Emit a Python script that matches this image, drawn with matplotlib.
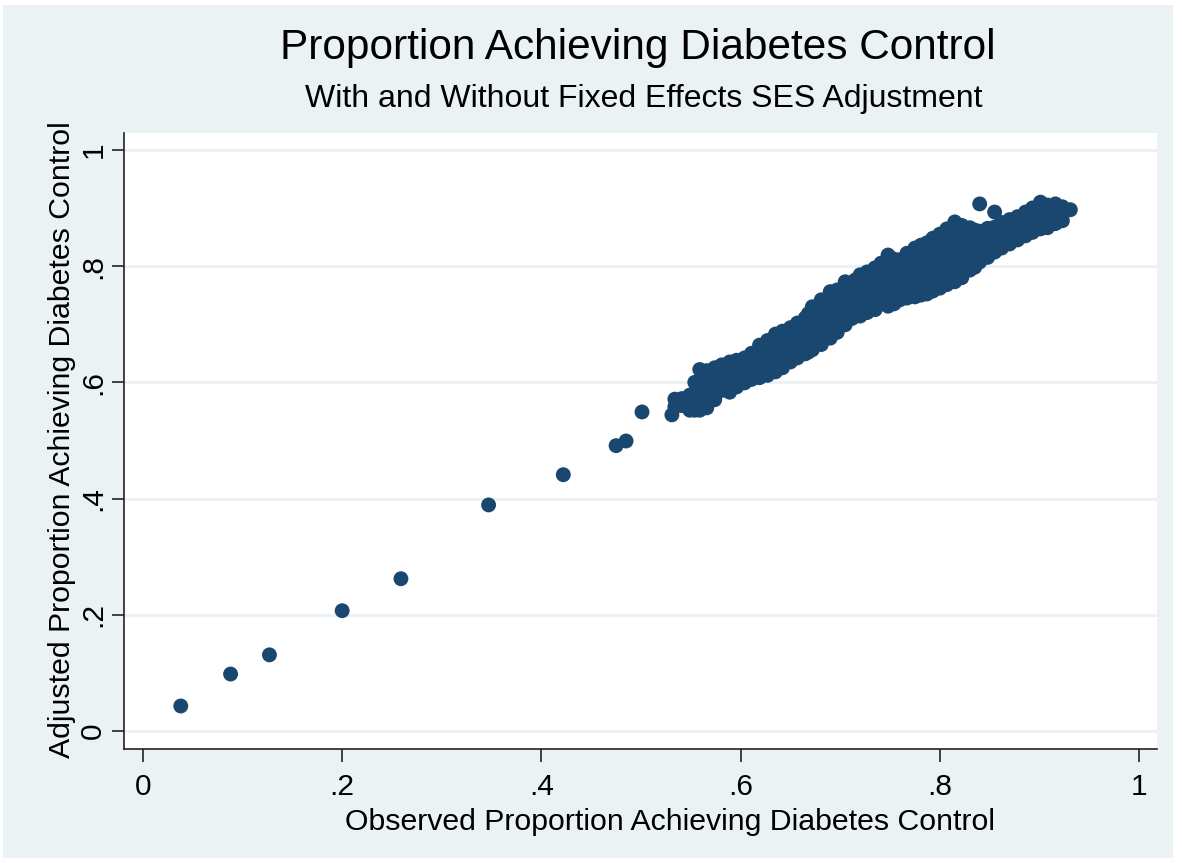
import matplotlib
matplotlib.use("Agg")
import matplotlib.pyplot as plt
from matplotlib.patches import Rectangle
from matplotlib.ticker import FixedLocator, FuncFormatter

# colours (Stata s2color look)
BG = "#EAF2F3"
NAVY = "#1A476F"

plt.rcParams['font.family'] = ['Liberation Sans', 'DejaVu Sans']

# isolated low-performing practices
obs_low = [0.038, 0.088, 0.127, 0.200, 0.259, 0.347, 0.422, 0.475, 0.485, 0.501, 0.531]
adj_low = [0.043, 0.098, 0.131, 0.207, 0.262, 0.389, 0.441, 0.491, 0.499, 0.549, 0.544]

# main cluster, read column by column (observed -> adjusted values)
cluster = {
    0.534: [0.571, 0.558],
    0.541: [0.572, 0.560],
    0.549: [0.578, 0.565, 0.552],
    0.554: [0.600, 0.582, 0.565, 0.552],
    0.559: [0.622, 0.600, 0.585, 0.568, 0.552],
    0.566: [0.620, 0.603, 0.588, 0.572, 0.556],
    0.574: [0.625, 0.610, 0.595, 0.580, 0.570],
    0.581: [0.630, 0.614, 0.598, 0.586],
    0.589: [0.635, 0.620, 0.605, 0.590, 0.583],
    0.596: [0.638, 0.623, 0.608, 0.592],
    0.604: [0.642, 0.628, 0.614, 0.599],
    0.611: [0.650, 0.635, 0.620, 0.605],
    0.619: [0.664, 0.650, 0.636, 0.622, 0.608],
    0.627: [0.672, 0.657, 0.641, 0.626, 0.612],
    0.635: [0.683, 0.667, 0.652, 0.635, 0.618],
    0.642: [0.688, 0.672, 0.656, 0.640, 0.625],
    0.650: [0.694, 0.680, 0.665, 0.650, 0.635],
    0.657: [0.702, 0.687, 0.672, 0.657, 0.642],
    0.665: [0.711, 0.696, 0.680, 0.664, 0.649],
    0.668: [0.718, 0.703, 0.688, 0.672, 0.652],
    0.672: [0.730, 0.715, 0.700, 0.685, 0.670, 0.656],
    0.681: [0.742, 0.726, 0.710, 0.694, 0.678, 0.665],
    0.690: [0.756, 0.740, 0.724, 0.708, 0.692, 0.676],
    0.697: [0.759, 0.745, 0.728, 0.712, 0.696, 0.686],
    0.705: [0.773, 0.755, 0.737, 0.718, 0.699],
    0.712: [0.762, 0.745, 0.727, 0.710],
    0.715: [0.776],
    0.720: [0.785, 0.768, 0.750, 0.732, 0.714],
    0.727: [0.790, 0.772, 0.755, 0.737, 0.720],
    0.735: [0.797, 0.780, 0.762, 0.744, 0.725],
    0.741: [0.805, 0.788, 0.770, 0.752, 0.735],
    0.748: [0.819, 0.800, 0.782, 0.765, 0.748, 0.731],
    0.754: [0.812, 0.795, 0.778, 0.760, 0.742, 0.735],
    0.760: [0.811, 0.794, 0.777, 0.759, 0.742],
    0.767: [0.822, 0.803, 0.786, 0.768, 0.752, 0.745],
    0.770: [0.819],
    0.775: [0.831, 0.812, 0.795, 0.778, 0.762, 0.747],
    0.781: [0.836, 0.818, 0.800, 0.782, 0.764, 0.750],
    0.787: [0.840, 0.824, 0.806, 0.788, 0.770, 0.752],
    0.793: [0.848, 0.830, 0.812, 0.793, 0.775, 0.757],
    0.800: [0.855, 0.837, 0.818, 0.799, 0.780, 0.762],
    0.807: [0.864, 0.845, 0.826, 0.806, 0.787, 0.768],
    0.815: [0.876, 0.853, 0.833, 0.813, 0.793, 0.773],
    0.822: [0.870, 0.851, 0.832, 0.812, 0.790, 0.780],
    0.830: [0.866, 0.848, 0.830, 0.811, 0.793],
    0.835: [0.862, 0.845, 0.827, 0.810, 0.798],
    0.840: [0.907, 0.860, 0.842, 0.825, 0.807],
    0.848: [0.865, 0.848, 0.832, 0.815],
    0.855: [0.893, 0.867, 0.850, 0.838, 0.824],
    0.862: [0.875, 0.860, 0.845, 0.831],
    0.870: [0.880, 0.865, 0.851, 0.838],
    0.878: [0.885, 0.871, 0.858, 0.845],
    0.886: [0.893, 0.878, 0.865, 0.852],
    0.893: [0.900, 0.886, 0.872, 0.858],
    0.901: [0.910, 0.895, 0.880, 0.864],
    0.908: [0.905, 0.890, 0.876, 0.866],
    0.916: [0.907, 0.890, 0.873],
    0.923: [0.902, 0.888, 0.878],
    0.931: [0.897],
}

ticks = [0, 0.2, 0.4, 0.6, 0.8, 1.0]
tick_labels = ["0", ".2", ".4", ".6", ".8", "1"]

obs = obs_low + [x for x, ys in cluster.items() for _ in ys]
adj = adj_low + [y for ys in cluster.values() for y in ys]

W, H = 1182, 863
fig = plt.figure(figsize=(W / 100, H / 100), dpi=100, facecolor="white")
fig.patches.append(Rectangle((3 / W, 5 / H), (1173 - 3) / W, (858 - 5) / H,
                             transform=fig.transFigure, facecolor=BG,
                             edgecolor="none", zorder=-5))

ax = fig.add_axes([124 / W, 1 - 749 / H, (1157 - 124) / W, (749 - 133) / H])
ax.set_zorder(2)
ax.set_facecolor("white")
ax.scatter(obs, adj, s=115, color=NAVY, edgecolors="none", zorder=3)

ax.set_xlim(-0.019, 1.018)
ax.set_ylim(-0.031, 1.029)

fmt = FuncFormatter(lambda v, p: tick_labels[min(range(len(ticks)), key=lambda i: abs(ticks[i] - v))])
ax.xaxis.set_major_locator(FixedLocator(ticks))
ax.yaxis.set_major_locator(FixedLocator(ticks))
ax.xaxis.set_major_formatter(fmt)
ax.yaxis.set_major_formatter(fmt)
ax.tick_params(axis="both", direction="out", length=9, width=1.2, colors="#222222",
               labelsize=21.5, labelcolor="black")
ax.tick_params(axis="x", pad=8)
ax.tick_params(axis="y", pad=3)
for lab in ax.get_yticklabels():
    lab.set_rotation(90)
    lab.set_va("center")

ax.grid(axis="y", color=BG, linewidth=2.2, zorder=1)
ax.set_axisbelow(True)
for s in ["top", "right"]:
    ax.spines[s].set_visible(False)
for s in ["left", "bottom"]:
    ax.spines[s].set_color("#222222")
    ax.spines[s].set_linewidth(1.2)

fig.text(637.5 / W, 1 - 48 / H, "Proportion Achieving Diabetes Control",
         ha="center", va="center", fontsize=30.5)
fig.text(644 / W, 1 - 99 / H, "With and Without Fixed Effects SES Adjustment",
         ha="center", va="center", fontsize=23)
fig.text(670 / W, 1 - 822 / H, "Observed Proportion Achieving Diabetes Control",
         ha="center", va="center", fontsize=21.8)
fig.text(62 / W, 1 - 440 / H, "Adjusted Proportion Achieving Diabetes Control",
         ha="center", va="center", rotation=90, fontsize=21.8)

fig.savefig("out.png", dpi=100, facecolor=fig.get_facecolor())
